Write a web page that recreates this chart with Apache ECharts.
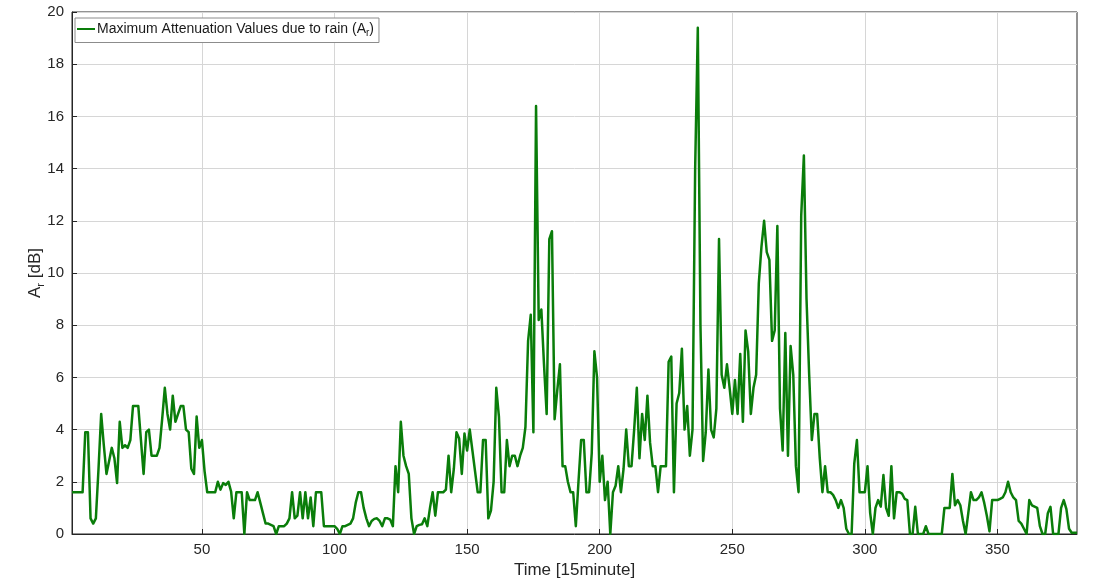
<!DOCTYPE html>
<html>
<head>
<meta charset="utf-8">
<title>Maximum Attenuation Values due to rain</title>
<script src="https://cdn.jsdelivr.net/npm/echarts@6/dist/echarts.min.js"></script>
<style>
  html, body { margin: 0; padding: 0; background: #ffffff; }
  #chart { width: 1094px; height: 584px; }
</style>
</head>
<body>
<div id="chart"></div>
<script>
// Rain attenuation A_r [dB], one value per 15-minute step (steps 1..380)
const attenuation = [
  1.6, 1.6, 1.6, 1.6, 1.6, 3.9, 3.9, 0.6, 0.4, 0.6,
  2.5, 4.6, 3.4, 2.3, 2.8, 3.3, 2.9, 1.95, 4.3, 3.3,
  3.4, 3.3, 3.6, 4.9, 4.9, 4.9, 3.6, 2.3, 3.9, 4.0,
  3.0, 3.0, 3.0, 3.3, 4.4, 5.6, 4.6, 4.0, 5.3, 4.3,
  4.6, 4.9, 4.9, 4.0, 3.9, 2.5, 2.3, 4.5, 3.3, 3.6,
  2.4, 1.6, 1.6, 1.6, 1.6, 2.0, 1.7, 1.95, 1.88, 2.0,
  1.63, 0.6, 1.6, 1.6, 1.6, 0.0, 1.6, 1.3, 1.3, 1.3,
  1.6, 1.2, 0.8, 0.4, 0.4, 0.35, 0.3, 0.0, 0.3, 0.3,
  0.3, 0.4, 0.6, 1.6, 0.6, 0.7, 1.6, 0.6, 1.6, 0.6,
  1.4, 0.3, 1.6, 1.6, 1.6, 0.3, 0.3, 0.3, 0.3, 0.3,
  0.2, 0.0, 0.3, 0.3, 0.35, 0.4, 0.6, 1.2, 1.6, 1.6,
  1.0, 0.6, 0.3, 0.5, 0.58, 0.6, 0.5, 0.3, 0.6, 0.6,
  0.55, 0.3, 2.6, 1.6, 4.3, 3.0, 2.6, 2.3, 0.6, 0.0,
  0.3, 0.35, 0.37, 0.6, 0.3, 1.0, 1.6, 0.7, 1.6, 1.6,
  1.6, 1.7, 3.0, 1.6, 2.5, 3.9, 3.66, 2.3, 3.85, 3.2,
  4.0, 3.2, 2.4, 1.6, 1.6, 3.6, 3.6, 0.6, 0.9, 2.0,
  5.6, 4.5, 1.6, 1.6, 3.6, 2.6, 3.0, 3.0, 2.6, 3.0,
  3.3, 4.1, 7.4, 8.4, 3.9, 16.4, 8.2, 8.6, 6.5, 4.6,
  11.3, 11.6, 4.4, 5.5, 6.5, 2.6, 2.6, 2.0, 1.6, 1.6,
  0.3, 2.0, 3.6, 3.6, 1.6, 1.6, 3.1, 7.0, 6.0, 2.0,
  3.0, 1.3, 2.0, 0.0, 1.6, 1.85, 2.6, 1.6, 2.5, 4.0,
  2.6, 2.6, 4.0, 5.6, 2.9, 4.6, 3.6, 5.3, 3.5, 2.6,
  2.6, 1.6, 2.6, 2.6, 2.6, 6.6, 6.8, 1.6, 5.0, 5.4,
  7.1, 4.0, 4.9, 3.0, 4.0, 14.0, 19.4, 8.0, 2.8, 3.9,
  6.3, 4.0, 3.7, 4.8, 11.3, 6.1, 5.6, 6.5, 5.6, 4.6,
  5.9, 4.6, 6.9, 4.3, 7.8, 7.0, 4.6, 5.6, 6.1, 9.6,
  11.0, 12.0, 10.8, 10.5, 7.4, 7.8, 11.8, 4.8, 3.2, 7.7,
  3.0, 7.2, 6.1, 2.6, 1.6, 12.2, 14.5, 9.0, 6.1, 3.6,
  4.6, 4.6, 2.9, 1.6, 2.6, 1.6, 1.6, 1.5, 1.3, 1.0,
  1.3, 1.0, 0.2, 0.0, 0.0, 2.7, 3.6, 1.6, 1.6, 1.6,
  2.6, 0.8, 0.0, 1.0, 1.3, 1.05, 2.26, 1.0, 0.7, 2.6,
  0.6, 1.6, 1.6, 1.55, 1.35, 1.3, 0.0, 0.0, 1.04, 0.0,
  0.0, 0.0, 0.3, 0.0, 0.0, 0.0, 0.0, 0.0, 0.0, 1.0,
  1.0, 1.0, 2.3, 1.1, 1.3, 1.1, 0.5, 0.0, 0.8, 1.6,
  1.3, 1.3, 1.4, 1.6, 1.2, 0.7, 0.1, 1.3, 1.3, 1.3,
  1.35, 1.4, 1.6, 2.0, 1.6, 1.4, 1.3, 0.5, 0.4, 0.2,
  0.0, 1.3, 1.1, 1.05, 1.0, 0.3, 0.0, 0.0, 0.8, 1.04,
  0.0, 0.0, 0.0, 1.0, 1.3, 0.95, 0.2, 0.05, 0.05, 0.05
];

// Tick positions on the time axis
const timeTicks = [50, 100, 150, 200, 250, 300, 350];
const timeRange = [1, 380];

const seriesName = 'Maximum Attenuation Values due to rain';

const points = attenuation.map((v, i) => [i + 1, v]);

const font = '"Liberation Sans", Arial, Helvetica, sans-serif';
const axisColor = '#262626';
const gridColor = '#d6d6d6';

const chart = echarts.init(document.getElementById('chart'), null, { renderer: 'canvas' });

chart.setOption({
  animation: false,
  backgroundColor: '#ffffff',
  textStyle: { fontFamily: font },
  grid: {
    left: 72, right: 17, top: 12, bottom: 46,
    show: true, borderColor: axisColor, borderWidth: 1,
    containLabel: false
  },
  legend: {
    left: 75, top: 18,
    orient: 'vertical',
    backgroundColor: '#ffffff',
    borderColor: '#8c8c8c',
    borderWidth: 1,
    borderRadius: 0,
    padding: [4, 5, 4, 2],
    itemWidth: 18,
    itemHeight: 10,
    itemGap: 0,
    icon: 'path://M0,4 L18,4 L18,6 L0,6 Z',
    data: [seriesName],
    formatter: () => '{t|' + seriesName + ' (A}{s|r}{t|)}',
    textStyle: {
      color: '#1a1a1a',
      fontFamily: font,
      padding: [0, 0, 0, -3],
      rich: {
        t: { fontSize: 14, fontFamily: font, color: '#1a1a1a' },
        s: { fontSize: 10, fontFamily: font, color: '#1a1a1a', padding: [9, 0, 0, 0] }
      }
    }
  },
  xAxis: {
    type: 'value',
    min: timeRange[0],
    max: timeRange[1],
    name: 'Time [15minute]',
    nameLocation: 'middle',
    nameGap: 28,
    nameMoveOverlap: false,
    nameTextStyle: { fontSize: 17, color: axisColor, fontFamily: font },
    axisLine: { show: true, lineStyle: { color: axisColor, width: 1 } },
    axisTick: { show: true, inside: true, length: 5, customValues: timeTicks, lineStyle: { color: axisColor } },
    axisLabel: { show: true, customValues: timeTicks, fontSize: 15, color: axisColor, margin: 8, fontFamily: font },
    splitLine: { show: true, customValues: timeTicks, lineStyle: { color: gridColor, width: 1 } }
  },
  yAxis: {
    type: 'value',
    min: 0,
    max: 20,
    interval: 2,
    name: '{a|A}{s|r}{a| [dB]}',
    nameLocation: 'middle',
    nameGap: 26,
    nameMoveOverlap: false,
    nameRotate: 90,
    nameTextStyle: {
      color: axisColor,
      fontFamily: font,
      rich: {
        a: { fontSize: 17, color: axisColor, fontFamily: font },
        s: { fontSize: 11, color: axisColor, fontFamily: font, padding: [10, 0, 0, 0] }
      }
    },
    axisLine: { show: true, lineStyle: { color: axisColor, width: 1 } },
    axisTick: { show: true, inside: true, length: 5, lineStyle: { color: axisColor } },
    axisLabel: { fontSize: 15, color: axisColor, margin: 8, fontFamily: font },
    splitLine: { show: true, lineStyle: { color: gridColor, width: 1 } }
  },
  series: [{
    name: seriesName,
    type: 'line',
    data: points,
    showSymbol: false,
    symbol: 'none',
    lineStyle: { color: '#0a7d0a', width: 2.5, join: 'round' },
    itemStyle: { color: '#0a7d0a' },
    z: 3
  }]
});
</script>
</body>
</html>
